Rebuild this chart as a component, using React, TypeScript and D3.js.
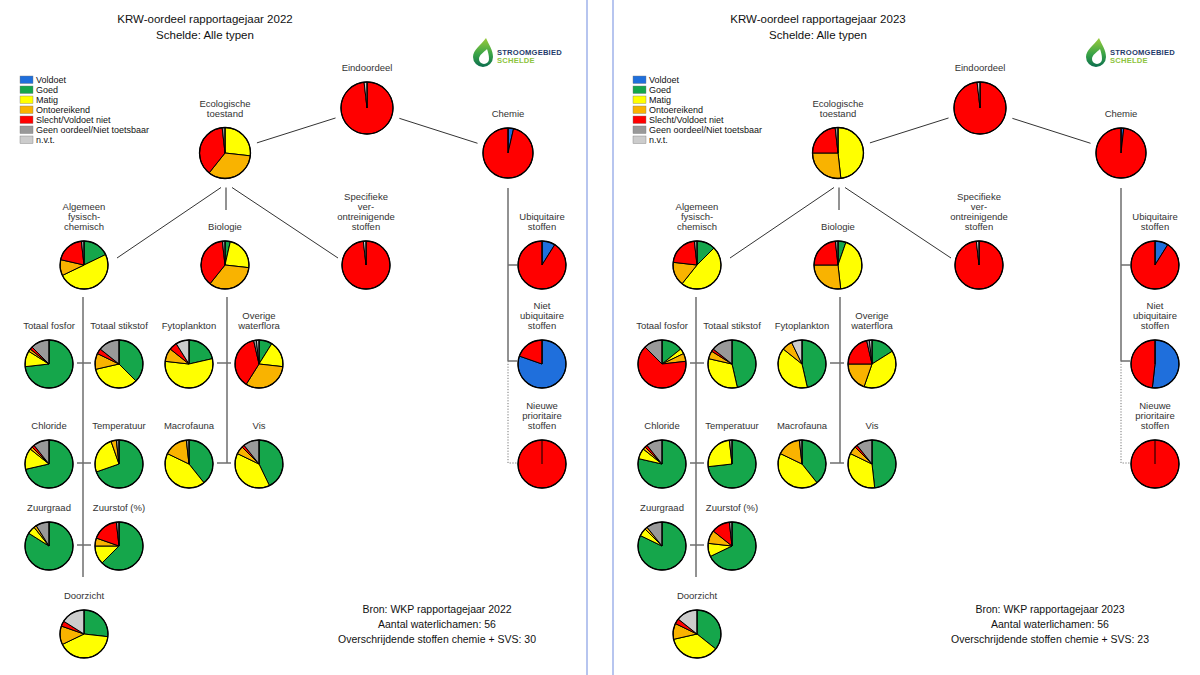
import React from 'react'
import * as d3 from 'd3'

// legend categories, in the order the slices run clockwise from 12 o'clock
const categories = ['Voldoet', 'Goed', 'Matig', 'Ontoereikend', 'Slecht/Voldoet niet', 'Geen oordeel/Niet toetsbaar', 'n.v.t.']
const colors = ['#1f6fdc', '#15a64b', '#ffff00', '#f9b300', '#ff0000', '#999999', '#cccccc']

const years = ['2022', '2023']
const waterBodies = [56, 56]
const exceedances = [30, 23]

const nodeKeys = [
    'eind', 'eco', 'chemie', 'alg', 'bio', 'svs', 'ubi', 'nubi', 'nieuw',
    'fosfor', 'stikstof', 'chloride', 'temperatuur', 'zuurgraad', 'zuurstof', 'doorzicht',
    'fyto', 'overige', 'macro', 'vis'
]

// number of water bodies per category (Voldoet, Goed, Matig, Ontoereikend, Slecht, Geen oordeel, n.v.t.)
const values2022 = [
    [0, 0, 0, 0, 55, 0, 1],
    [0, 0, 15, 19, 21, 1, 0],
    [2, 0, 0, 0, 54, 0, 0],
    [0, 10, 28, 6, 11, 1, 0],
    [0, 2, 13, 19, 21, 1, 0],
    [0, 0, 0, 0, 55, 0, 1],
    [5, 0, 0, 0, 51, 0, 0],
    [45, 0, 0, 0, 11, 0, 0],
    [0, 0, 0, 0, 56, 0, 0],
    [0, 41, 6, 1, 1, 7, 0],
    [0, 21, 19, 6, 2, 8, 0],
    [0, 40, 8, 1, 1, 6, 0],
    [0, 39, 14, 2, 0, 1, 0],
    [0, 47, 3, 1, 0, 5, 0],
    [0, 35, 7, 3, 10, 1, 0],
    [0, 15, 23, 7, 2, 0, 9],
    [0, 12, 31, 5, 3, 0, 5],
    [0, 5, 10, 18, 21, 1, 1],
    [0, 22, 24, 9, 0, 1, 0],
    [0, 24, 22, 3, 1, 6, 0],
]

const values2023 = [
    [0, 0, 0, 0, 55, 0, 1],
    [0, 0, 27, 15, 13, 1, 0],
    [1, 0, 0, 0, 55, 0, 0],
    [0, 7, 27, 9, 12, 1, 0],
    [0, 3, 24, 15, 13, 1, 0],
    [0, 0, 0, 0, 55, 0, 1],
    [5, 0, 0, 0, 51, 0, 0],
    [29, 0, 0, 0, 27, 0, 0],
    [0, 0, 0, 0, 56, 0, 0],
    [0, 8, 2, 3, 36, 7, 0],
    [0, 26, 18, 3, 1, 8, 0],
    [0, 44, 4, 1, 1, 6, 0],
    [0, 41, 14, 0, 0, 1, 0],
    [0, 46, 3, 1, 0, 6, 0],
    [0, 38, 5, 5, 7, 1, 0],
    [0, 20, 20, 6, 2, 0, 8],
    [0, 26, 22, 4, 0, 0, 4],
    [0, 9, 22, 11, 12, 1, 1],
    [0, 22, 24, 9, 0, 1, 0],
    [0, 27, 19, 3, 1, 6, 0],
]

const allValues = [values2022, values2023]

// where each pie sits inside a panel
const layout: any = {
    eind: { label: ['Eindoordeel'], x: 367, y: 108, r: 26 },
    eco: { label: ['Ecologische', 'toestand'], x: 225, y: 153, r: 25.5 },
    chemie: { label: ['Chemie'], x: 508, y: 153, r: 25 },
    alg: { label: ['Algemeen', 'fysisch-', 'chemisch'], x: 84, y: 265, r: 24 },
    bio: { label: ['Biologie'], x: 225, y: 265, r: 24 },
    svs: { label: ['Specifieke', 'ver-', 'ontreinigende', 'stoffen'], x: 366, y: 265, r: 24 },
    ubi: { label: ['Ubiquitaire', 'stoffen'], x: 542, y: 265, r: 24 },
    nubi: { label: ['Niet', 'ubiquitaire', 'stoffen'], x: 542, y: 364, r: 24 },
    nieuw: { label: ['Nieuwe', 'prioritaire', 'stoffen'], x: 542, y: 464, r: 24 },
    fosfor: { label: ['Totaal fosfor'], x: 49, y: 364, r: 24 },
    stikstof: { label: ['Totaal stikstof'], x: 119, y: 364, r: 24 },
    chloride: { label: ['Chloride'], x: 49, y: 464, r: 24 },
    temperatuur: { label: ['Temperatuur'], x: 119, y: 464, r: 24 },
    zuurgraad: { label: ['Zuurgraad'], x: 49, y: 546, r: 24 },
    zuurstof: { label: ['Zuurstof (%)'], x: 119, y: 546, r: 24 },
    doorzicht: { label: ['Doorzicht'], x: 84, y: 634, r: 24 },
    fyto: { label: ['Fytoplankton'], x: 189, y: 364, r: 24 },
    overige: { label: ['Overige', 'waterflora'], x: 259, y: 364, r: 24 },
    macro: { label: ['Macrofauna'], x: 189, y: 464, r: 24 },
    vis: { label: ['Vis'], x: 259, y: 464, r: 24 },
}

const panelX = [0, 613]
const font = "'Liberation Sans', Arial, Helvetica, sans-serif"

const pie = d3.pie<number>().sort(null).value(d => d)

function Pie({ node, values }: { node: any, values: number[] }) {
    const arcs = pie(values)
    const arc = d3.arc<any>().innerRadius(0).outerRadius(node.r)
    const baseline = node.y - node.r - 11
    const n = node.label.length
    return (
        <g>
            {node.label.map((t: string, i: number) => (
                <text key={i} x={node.x} y={baseline - (n - 1 - i) * 10} textAnchor='middle'
                    fontSize={9.5} fill='#333'>{t}</text>
            ))}
            <g transform={`translate(${node.x},${node.y})`}>
                {arcs.filter(a => a.value > 0).map((a, i) => (
                    <path key={i} d={arc(a) as string} fill={colors[a.index]} stroke='#000' strokeWidth={1} strokeLinejoin='round' />
                ))}
                <line x1={0} y1={0} x2={0} y2={-node.r} stroke='#000' strokeWidth={1} />
                <circle r={node.r} fill='none' stroke='#000' strokeWidth={1.3} />
            </g>
        </g>
    )
}

function Connectors() {
    const L = layout
    const thin = { stroke: '#333', strokeWidth: 1 }
    const thick = { stroke: '#6e6e6e', strokeWidth: 1.5 }

    function between(a: any, b: any) {
        const dx = b.x - a.x, dy = b.y - a.y
        const len = Math.hypot(dx, dy)
        const ux = dx / len, uy = dy / len
        const da = a.r + 8, db = b.r + 7
        return { x1: a.x + ux * da, y1: a.y + uy * da, x2: b.x - ux * db, y2: b.y - uy * db }
    }

    const ecoBottom = L.eco.y + L.eco.r + 9
    const bioLabelTop = L.bio.y - L.bio.r - 11 - 20
    const doorLabelTop = L.doorzicht.y - L.doorzicht.r - 11 - 22
    const algX = L.alg.x - 1
    const bioX = L.bio.x + 2

    const algRows = [['fosfor', 'stikstof'], ['chloride', 'temperatuur'], ['zuurgraad', 'zuurstof']]
    const bioRows = [['fyto', 'overige'], ['macro', 'vis']]

    return (
        <g>
            <line {...between(L.eco, L.eind)} {...thin} />
            <line {...between(L.eind, L.chemie)} {...thin} />
            <line x1={L.eco.x - 4} y1={ecoBottom} x2={L.alg.x + L.alg.r + 9} y2={L.alg.y - 7} {...thin} />
            <line x1={L.eco.x + 1} y1={ecoBottom} x2={L.eco.x + 1} y2={bioLabelTop} {...thick} />
            <line x1={L.eco.x + 7} y1={ecoBottom} x2={L.svs.x - L.svs.r - 4} y2={L.svs.y - 7} {...thin} />

            {/* chemie branch */}
            <line x1={L.chemie.x} y1={L.chemie.y + L.chemie.r + 10} x2={L.chemie.x} y2={L.nubi.y - 3} {...thick} />
            <line x1={L.chemie.x} y1={L.ubi.y} x2={L.ubi.x - L.ubi.r - 1} y2={L.ubi.y} {...thick} />
            <line x1={L.chemie.x} y1={L.nubi.y - 3} x2={L.nubi.x - L.nubi.r - 1} y2={L.nubi.y - 3} {...thick} />
            <polyline points={`${L.chemie.x},${L.nubi.y - 3} ${L.chemie.x},${L.nieuw.y - 1} ${L.nieuw.x - L.nieuw.r - 1},${L.nieuw.y - 1}`}
                fill='none' stroke='#777' strokeWidth={1} strokeDasharray='1.2,1.6' />

            {/* algemeen fysisch-chemisch */}
            <line x1={algX} y1={L.alg.y + L.alg.r + 8} x2={algX} y2={doorLabelTop} {...thick} />
            {algRows.map(([a, b]) => (
                <line key={a} x1={L[a].x + L[a].r + 4} y1={L[a].y - 1} x2={L[b].x - L[b].r - 4} y2={L[a].y - 1} {...thick} />
            ))}

            {/* biologie */}
            <line x1={bioX} y1={L.bio.y + L.bio.r + 8} x2={bioX} y2={L.macro.y - 1} {...thick} />
            {bioRows.map(([a, b]) => (
                <line key={a} x1={L[a].x + L[a].r + 4} y1={L[a].y - 1} x2={L[b].x - L[b].r - 4} y2={L[a].y - 1} {...thick} />
            ))}
        </g>
    )
}

function Logo() {
    return (
        <g>
            <defs>
                <linearGradient id='dropGrad' x1='0' y1='0' x2='0' y2='1'>
                    <stop offset='0%' stopColor='#9ccb3b' />
                    <stop offset='55%' stopColor='#3aa447' />
                    <stop offset='100%' stopColor='#0c6e4f' />
                </linearGradient>
            </defs>
            <path d='M486,38 C481,45 473,50 473,57 A10,10 0 0 0 493,57 C493,50 489,45 486,38 Z' fill='url(#dropGrad)' />
            <path d='M487,49 C484,52 479,55 479,59 A5,5 0 0 0 489,59 C489,55 488,52 487,49 Z' fill='#fff' />
            <text x={497} y={55} fontSize={7.6} fontWeight='bold' fill='#1f3c6c' letterSpacing={0.2}>STROOMGEBIED</text>
            <text x={497} y={63} fontSize={7.6} fontWeight='bold' fill='#8cc43e' letterSpacing={0.2}>SCHELDE</text>
        </g>
    )
}

function Panel({ p }: { p: number }) {
    const values = allValues[p]
    return (
        <g transform={`translate(${panelX[p]},0)`}>
            <text x={205} y={23} textAnchor='middle' fontSize={11.5} fill='#111'>KRW-oordeel rapportagejaar {years[p]}</text>
            <text x={205} y={39} textAnchor='middle' fontSize={11.5} fill='#111'>Schelde: Alle typen</text>

            <Logo />

            {categories.map((c, i) => (
                <g key={c} transform={`translate(20,${76 + i * 10})`}>
                    <rect width={13} height={7.5} fill={colors[i]} stroke='#777' strokeWidth={0.4} />
                    <text x={16} y={7.3} fontSize={9} fill='#111'>{c}</text>
                </g>
            ))}

            <Connectors />

            {nodeKeys.map((k, i) => (
                <Pie key={k} node={layout[k]} values={values[i]} />
            ))}

            <text x={437} y={613} textAnchor='middle' fontSize={10.5} fill='#111'>Bron: WKP rapportagejaar {years[p]}</text>
            <text x={437} y={628} textAnchor='middle' fontSize={10.5} fill='#111'>Aantal waterlichamen: {waterBodies[p]}</text>
            <text x={437} y={643} textAnchor='middle' fontSize={10.5} fill='#111'>Overschrijdende stoffen chemie + SVS: {exceedances[p]}</text>
        </g>
    )
}

export default function App() {
    const width = 1200, height = 675
    return (
        <svg width={width} height={height} style={{ position: 'absolute', left: 0, top: 0, background: '#fff' }}
            fontFamily={font}>
            <rect width={width} height={height} fill='#fff' />
            <line x1={587} x2={587} y1={0} y2={height} stroke='#9fb2ea' strokeWidth={1.5} />
            <line x1={613} x2={613} y1={0} y2={height} stroke='#9fb2ea' strokeWidth={1.5} />
            {years.map((y, p) => <Panel key={y} p={p} />)}
        </svg>
    )
}
